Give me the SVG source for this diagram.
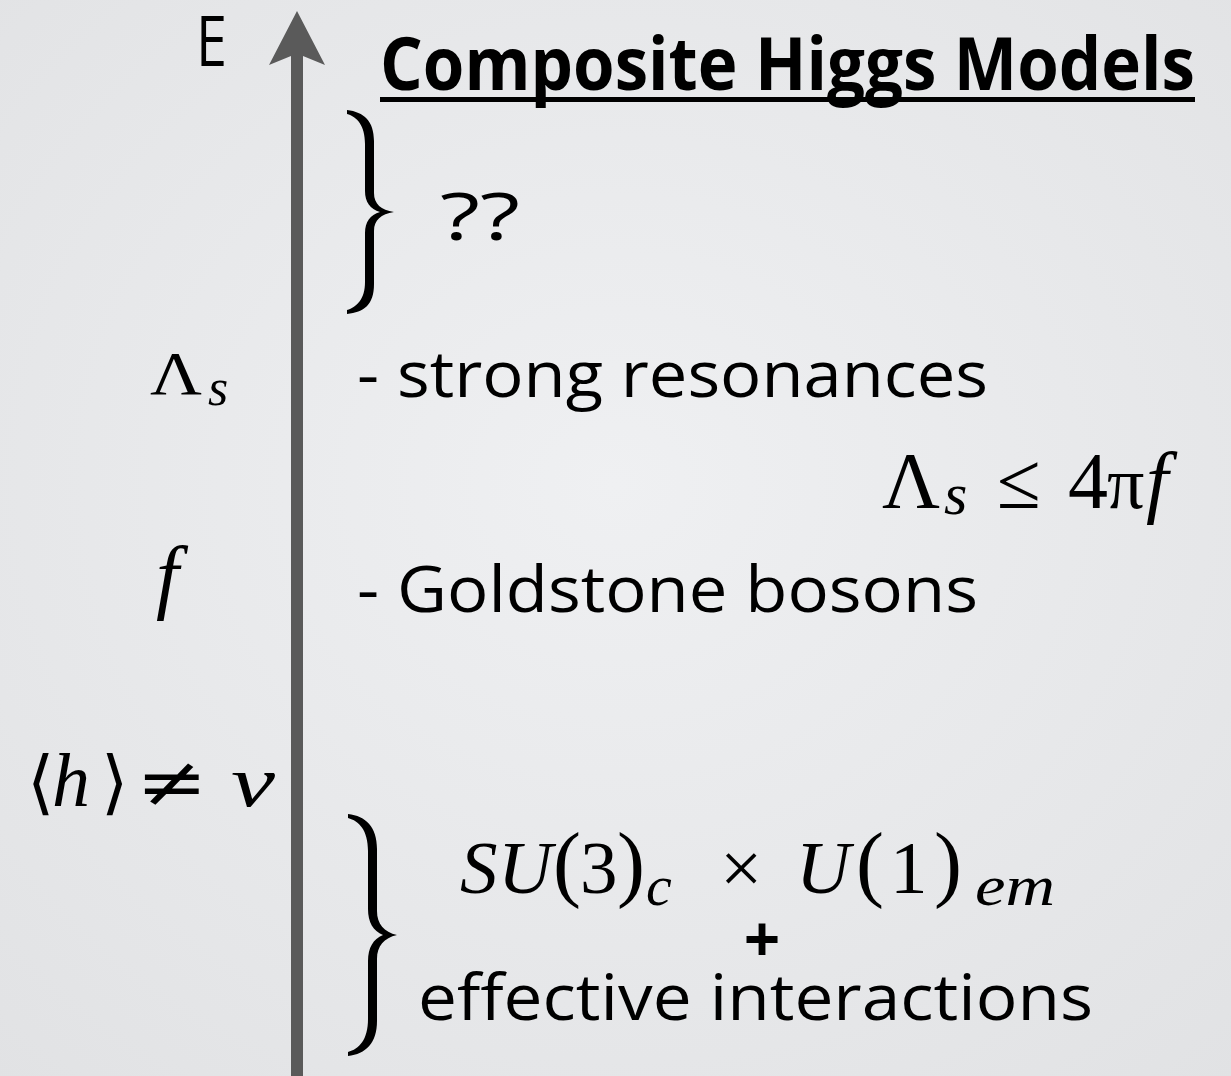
<svg xmlns="http://www.w3.org/2000/svg" width="1231" height="1076" viewBox="0 0 1231 1076">
<defs>
<radialGradient id="bg" cx="0.5" cy="0.45" r="0.75">
<stop offset="0" stop-color="#eff0f2"/>
<stop offset="1" stop-color="#e1e2e4"/>
</radialGradient>
</defs>
<style>
.t{font-family:"Open Sans","Noto Sans","Liberation Sans",sans-serif;fill:#000}
.m{font-family:"Liberation Serif","DejaVu Serif",serif;fill:#000}
.i{font-style:italic}
.brace{fill:#000}
</style>
<rect width="1231" height="1076" fill="url(#bg)"/>
<g id="axis">
<rect x="291" y="55" width="12" height="1021" fill="#5a5a5a"/>
<polygon points="297,11 325,65 303,56 291,56 269,65" fill="#5a5a5a"/>
</g>
<text class="t" x="196" y="66" font-size="70" textLength="31" lengthAdjust="spacingAndGlyphs">E</text>
<g id="title">
<text class="t" x="380" y="90" font-size="74" font-weight="bold" textLength="815" lengthAdjust="spacingAndGlyphs">Composite Higgs Models</text>
<rect x="380" y="97" width="815" height="5" fill="#000"/>
</g>
<g id="brace-top">
<path class="brace" d="M347,110 C364,112 374,121 374,141 L374,193 C374,204 381,210 394,212 C381,214 374,220 374,231 L374,284 C374,305 364,312 347,314 L347,310 C357,307 365,299 365,282 L365,233 C365,222 370,215 380,212 C370,209 365,202 365,191 L365,144 C365,125 357,117 347,114 Z"/>
<text class="t" x="440" y="240" font-size="66" textLength="80" lengthAdjust="spacingAndGlyphs">??</text>
</g>
<g id="level-lambda">
<text class="m" y="394" font-size="62"><tspan x="150" textLength="52" lengthAdjust="spacingAndGlyphs">Λ</tspan><tspan class="i" x="208" y="405" font-size="52">s</tspan></text>
<text class="t" x="357" y="397" font-size="64" textLength="631" lengthAdjust="spacingAndGlyphs">- strong resonances</text>
</g>
<g id="bound">
<text class="m" y="508" font-size="80"><tspan x="882">Λ</tspan><tspan class="i" x="944" y="514" font-size="60">s</tspan><tspan x="997" y="508">≤</tspan><tspan x="1068">4</tspan><tspan x="1107" font-size="74">π</tspan><tspan class="i" x="1146">f</tspan></text>
</g>
<g id="level-f">
<text class="m i" x="156" y="603" font-size="82">f</text>
<text class="t" x="357" y="612" font-size="64" textLength="621" lengthAdjust="spacingAndGlyphs">- Goldstone bosons</text>
</g>
<g id="level-h">
<text class="m" y="806" font-size="70"><tspan x="27">⟨</tspan><tspan class="i" x="52" font-size="76">h</tspan><tspan x="101" font-size="70">⟩</tspan><tspan x="136" font-family="DejaVu Serif" font-size="70" textLength="72" lengthAdjust="spacingAndGlyphs">≠</tspan><tspan class="i" x="231" font-size="72" textLength="44" lengthAdjust="spacingAndGlyphs">v</tspan></text>
</g>
<g id="brace-bottom">
<path class="brace" d="M348,814 C366,816 377,827 377,849 L377,911 C377,924 384,932 397,935 C384,938 377,946 377,959 L377,1021 C377,1043 366,1054 348,1056 L348,1052 C359,1049 368,1040 368,1019 L368,961 C368,948 373,939 383,935 C373,931 368,922 368,909 L368,851 C368,830 359,821 348,818 Z"/>
<text class="m" y="893" font-size="75"><tspan class="i" x="460">S</tspan><tspan class="i" x="498">U</tspan><tspan x="553" y="891" font-size="84">(</tspan><tspan x="580" y="893">3</tspan><tspan x="617" y="891" font-size="84">)</tspan><tspan class="i" x="646" y="905" font-size="58">c</tspan><tspan x="720" y="893">×</tspan><tspan class="i" x="796">U</tspan><tspan x="856" y="891" font-size="84">(</tspan><tspan x="890" y="893">1</tspan><tspan x="934" y="891" font-size="84">)</tspan><tspan class="i" x="975" y="905" font-size="58" textLength="80" lengthAdjust="spacingAndGlyphs">em</tspan></text>
<text class="t" x="762" y="962" font-size="64" font-weight="bold" text-anchor="middle">+</text>
<text class="t" x="418" y="1020" font-size="64" textLength="675" lengthAdjust="spacingAndGlyphs">effective interactions</text>
</g>
</svg>
